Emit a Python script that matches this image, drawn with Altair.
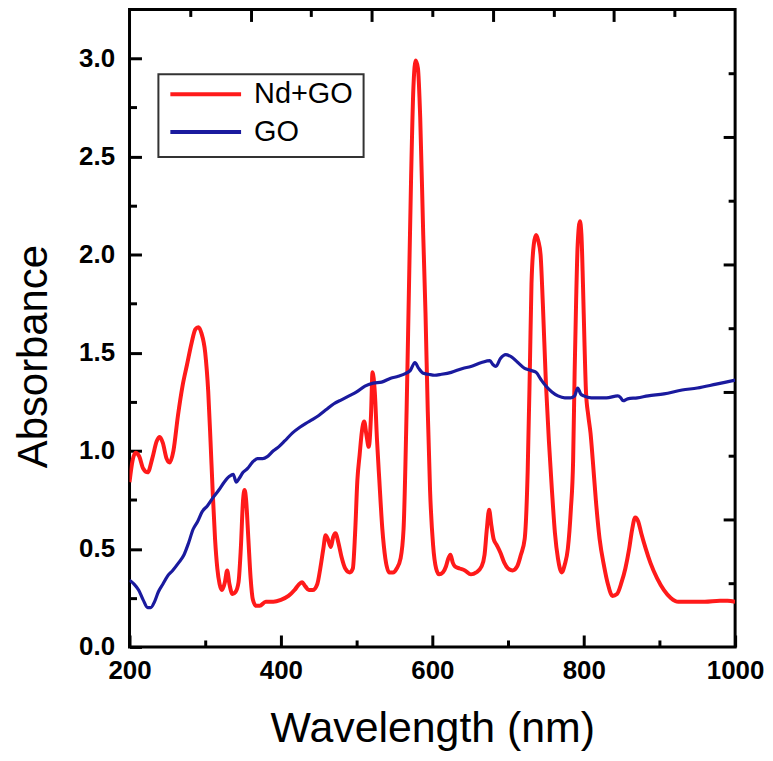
import altair as alt
import pandas as pd

# ---- data ----
nd_wavelength = [200, 204, 208, 213, 218, 224, 230, 236, 240, 244, 249, 253, 258, 264, 270, 276, 282, 287, 291, 295,
                 300, 304, 307, 310, 313, 316, 319, 322, 326, 329, 332, 336, 340, 344, 347, 350, 352, 354, 357, 360,
                 363, 367, 372, 380, 390, 400, 410, 418, 424, 428, 432, 437, 442, 448, 452, 456, 459, 462, 466, 469,
                 472, 476, 480, 485, 491, 495, 498, 501, 504, 507, 510, 513, 516, 519, 521, 524, 527, 530, 534, 538,
                 543, 548, 553, 558, 562, 566, 569, 572, 575, 578, 581, 584, 588, 591, 594, 597, 601, 605, 609, 614,
                 618, 621, 624, 627, 630, 636, 643, 651, 658, 665, 669, 672, 675, 678, 681, 685, 690, 695, 700, 706,
                 712, 717, 722, 726, 729, 731, 734, 737, 740, 743, 746, 750, 754, 758, 762, 766, 771, 775, 779, 783,
                 786, 788, 790, 792, 795, 797, 799, 801, 803, 806, 809, 812, 816, 821, 827, 832, 838, 844, 850, 855,
                 860, 864, 868, 872, 876, 882, 888, 897, 906, 915, 925, 940, 960, 980, 990, 1000]
nd_absorbance = [0.84, 0.95, 0.99, 0.97, 0.91, 0.89, 0.96, 1.05, 1.07, 1.04, 0.96, 0.94, 1.00, 1.18, 1.33, 1.44, 1.55, 1.62, 1.63, 1.60,
                 1.50, 1.30, 1.05, 0.78, 0.55, 0.40, 0.32, 0.29, 0.33, 0.39, 0.32, 0.27, 0.28, 0.33, 0.50, 0.75, 0.80, 0.75, 0.55, 0.35,
                 0.24, 0.21, 0.21, 0.23, 0.23, 0.24, 0.26, 0.29, 0.32, 0.33, 0.31, 0.29, 0.29, 0.32, 0.40, 0.50, 0.57, 0.55, 0.51, 0.56,
                 0.58, 0.53, 0.46, 0.40, 0.38, 0.40, 0.58, 0.85, 0.98, 1.10, 1.15, 1.08, 1.02, 1.18, 1.40, 1.30, 1.05, 0.85, 0.60, 0.45,
                 0.38, 0.38, 0.40, 0.45, 0.60, 1.20, 1.80, 2.40, 2.85, 2.99, 2.95, 2.70, 2.10, 1.70, 1.20, 0.80, 0.52, 0.40, 0.37, 0.38,
                 0.41, 0.45, 0.47, 0.43, 0.41, 0.40, 0.39, 0.37, 0.38, 0.41, 0.47, 0.60, 0.70, 0.62, 0.55, 0.52, 0.48, 0.43, 0.40, 0.39,
                 0.41, 0.47, 0.55, 0.90, 1.45, 1.85, 2.05, 2.10, 2.07, 2.00, 1.75, 1.35, 1.05, 0.80, 0.58, 0.45, 0.38, 0.42, 0.50, 0.70,
                 0.95, 1.40, 1.77, 2.05, 2.17, 2.10, 1.85, 1.55, 1.30, 1.18, 1.09, 0.95, 0.75, 0.55, 0.41, 0.32, 0.26, 0.27, 0.33, 0.40,
                 0.50, 0.60, 0.66, 0.64, 0.58, 0.50, 0.43, 0.35, 0.29, 0.25, 0.23, 0.23, 0.23, 0.235, 0.235, 0.23]

go_wavelength = [200, 206, 212, 218, 224, 228, 233, 238, 244, 250, 257, 265, 272, 278, 284, 290, 296, 303, 310, 318,
                 325, 332, 337, 341, 345, 350, 356, 362, 369, 376, 382, 390, 397, 405, 415, 425, 433, 442, 450, 460,
                 470, 480, 490, 500, 511, 522, 533, 545, 555, 565, 571, 577, 582, 588, 595, 603, 612, 625, 640, 651,
                 665, 676, 680, 684, 690, 697, 704, 713, 722, 730, 737, 744, 750, 758, 766, 775, 783, 788, 792, 796,
                 800, 810, 818, 830, 845, 849, 852, 858, 871, 885, 906, 930, 950, 975, 1000]
go_absorbance = [0.34, 0.32, 0.29, 0.24, 0.20, 0.20, 0.23, 0.28, 0.32, 0.36, 0.39, 0.43, 0.47, 0.53, 0.60, 0.64, 0.69, 0.72, 0.76, 0.80,
                 0.84, 0.87, 0.88, 0.84, 0.86, 0.89, 0.91, 0.94, 0.96, 0.96, 0.97, 1.00, 1.02, 1.05, 1.09, 1.12, 1.14, 1.16, 1.18, 1.21,
                 1.24, 1.26, 1.28, 1.30, 1.33, 1.345, 1.35, 1.37, 1.38, 1.395, 1.41, 1.45, 1.42, 1.395, 1.39, 1.385, 1.39, 1.40, 1.42, 1.43,
                 1.45, 1.46, 1.44, 1.43, 1.47, 1.49, 1.48, 1.45, 1.42, 1.41, 1.40, 1.36, 1.33, 1.30, 1.28, 1.27, 1.27, 1.28, 1.32, 1.29,
                 1.28, 1.27, 1.27, 1.27, 1.28, 1.27, 1.255, 1.265, 1.27, 1.28, 1.29, 1.31, 1.32, 1.34, 1.36]

series_names = ["Nd+GO", "GO"]
series_colors = ["#ff1a1a", "#1a1a9e"]
series_widths = [4.0, 3.2]

x_major = [200, 400, 600, 800, 1000]
x_minor = [300, 500, 700, 900]
y_major = [0.0, 0.5, 1.0, 1.5, 2.0, 2.5, 3.0]
y_minor = [0.25, 0.75, 1.25, 1.75, 2.25, 2.75]
mirror_major = [1, 2, 3, 4]
mirror_minor = [0.5, 1.5, 2.5, 3.5, 4.5]

x_domain = [200, 1000]
y_domain = [0, 3.25]
mirror_domain = [0, 5]

FONT = "Liberation Sans"

df = pd.concat([
    pd.DataFrame({"wavelength": nd_wavelength, "absorbance": nd_absorbance, "series": series_names[0]}),
    pd.DataFrame({"wavelength": go_wavelength, "absorbance": go_absorbance, "series": series_names[1]}),
], ignore_index=True)

MAJ = 12
MIN = 7


def tick_axis(orient, values, size, labels=False, **kw):
    return alt.Axis(orient=orient, values=values, tickSize=size, offset=-size, tickWidth=3,
                    tickColor="black", domain=False, grid=False, labels=labels, **kw)


x_scale = alt.Scale(domain=x_domain, nice=False, zero=False)
y_scale = alt.Scale(domain=y_domain, nice=False, zero=False)
m_scale = alt.Scale(domain=mirror_domain, nice=False, zero=False)

lines = alt.Chart(df).mark_line(interpolate="monotone", clip=True).encode(
    x=alt.X("wavelength:Q", scale=x_scale,
            axis=tick_axis("bottom", x_major, MAJ, labels=True, title="Wavelength (nm)", format="d",
                           labelFont=FONT, labelFontSize=26, labelFontWeight="bold", labelColor="black",
                           labelPadding=11, labelFlush=False, labelOverlap=False,
                           titleFont=FONT, titleFontSize=43, titleFontWeight="normal", titleColor="black",
                           titleX=304, titleY=107, titleBaseline="alphabetic", titleAlign="center")),
    y=alt.Y("absorbance:Q", scale=y_scale,
            axis=tick_axis("left", y_major, MAJ, labels=True, title="Absorbance", format=".1f",
                           labelFont=FONT, labelFontSize=26, labelFontWeight="bold", labelColor="black",
                           labelPadding=15, labelOverlap=False, labelFlush=False,
                           titleFont=FONT, titleFontSize=42, titleFontWeight="normal", titleColor="black",
                           titleAngle=270, titleX=-95, titleY=348, titleBaseline="alphabetic",
                           titleAlign="center")),
    color=alt.Color("series:N", sort=series_names,
                    scale=alt.Scale(domain=series_names, range=series_colors),
                    legend=alt.Legend(orient="none", legendX=29, legendY=65, title=None,
                                      symbolType="stroke", symbolSize=5041, symbolStrokeWidth=4,
                                      labelFont=FONT, labelFontSize=29, labelColor="black",
                                      labelOffset=11, clipHeight=20, rowPadding=9, padding=10,
                                      fillColor="white", strokeColor="#333333")),
    strokeWidth=alt.StrokeWidth("series:N", scale=alt.Scale(domain=series_names, range=series_widths),
                                legend=None),
    order=alt.Order("wavelength:Q"),
)

minor_ticks = alt.Chart(df).mark_point(opacity=0, clip=True).encode(
    x=alt.X("wavelength:Q", scale=x_scale, axis=tick_axis("bottom", x_minor, MIN, title=None)),
    y=alt.Y("absorbance:Q", scale=y_scale, axis=tick_axis("left", y_minor, MIN, title=None)),
)

mirror_major_ticks = alt.Chart(df).mark_point(opacity=0, clip=True).encode(
    x=alt.X("wavelength:Q", scale=m_scale, axis=tick_axis("top", mirror_major, MAJ, title=None)),
    y=alt.Y("absorbance:Q", scale=m_scale, axis=tick_axis("right", mirror_major, MAJ, title=None)),
)

mirror_minor_ticks = alt.Chart(df).mark_point(opacity=0, clip=True).encode(
    x=alt.X("wavelength:Q", scale=m_scale, axis=tick_axis("top", mirror_minor, MIN, title=None)),
    y=alt.Y("absorbance:Q", scale=m_scale, axis=tick_axis("right", mirror_minor, MIN, title=None)),
)

chart = alt.layer(lines, minor_ticks, mirror_major_ticks, mirror_minor_ticks).resolve_scale(
    x="independent", y="independent", color="independent"
).resolve_axis(
    x="independent", y="independent"
).properties(
    width=608, height=640,
    autosize=alt.AutoSizeParams(type="none"),
    padding={"left": 122, "top": 0, "right": 30, "bottom": 104},
    background="white",
).configure_view(
    stroke="black", strokeWidth=3
).configure_legend(
    strokeWidth=2
)

chart.save("out.html", embed_options={"renderer": "svg", "actions": False})
